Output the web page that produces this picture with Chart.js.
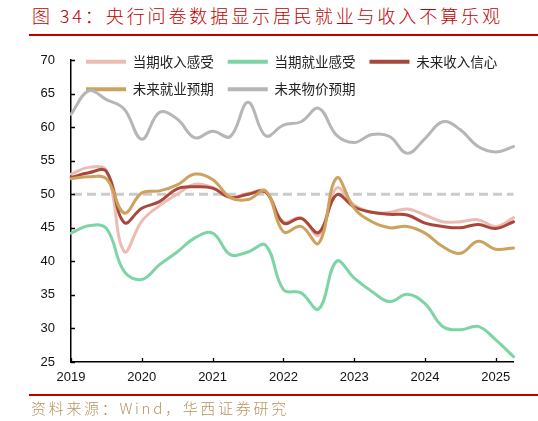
<!DOCTYPE html>
<html>
<head>
<meta charset="utf-8">
<script src="https://cdn.jsdelivr.net/npm/chart.js@4.4.1/dist/chart.umd.min.js"></script>
<style>
  html, body { margin: 0; padding: 0; background: #fff; }
  #wrap { position: relative; width: 538px; height: 421px; overflow: hidden; }
  #chartBox { position: absolute; left: 0; top: 0; width: 538px; height: 421px; }
  .title { position: absolute; left: 32px; top: 4px; font-family: "Noto Sans CJK SC", sans-serif; font-weight: 300;
           font-size: 18px; line-height: 22px; color: #C00000; letter-spacing: 2.9px; white-space: nowrap; }
  .rule { position: absolute; left: 29px; right: 0; height: 1.5px; background: #C00000; }
  .source { position: absolute; left: 31px; top: 398px; font-family: "Noto Sans CJK SC", sans-serif; font-weight: 300;
            font-size: 15px; line-height: 19px; color: #B8935B; letter-spacing: 2.7px; white-space: nowrap; }
</style>
</head>
<body>
<div id="wrap">
  <div class="title">图 34：央行问卷数据显示居民就业与收入不算乐观</div>
  <div class="rule" style="top:34px"></div>
  <div id="chartBox"><canvas id="c"></canvas></div>
  <div class="rule" style="top:394px"></div>
  <div class="source">资料来源：Wind，华西证券研究</div>
</div>
<script>
// ---- data ----
const quarters = [
  "2019Q1","2019Q2","2019Q3","2019Q4","2020Q1","2020Q2","2020Q3","2020Q4",
  "2021Q1","2021Q2","2021Q3","2021Q4","2022Q1","2022Q2","2022Q3","2022Q4",
  "2023Q1","2023Q2","2023Q3","2023Q4","2024Q1","2024Q2","2024Q3","2024Q4",
  "2025Q1","2025Q2"
];
const incomeNow = [53.0,54.0,53.5,41.5,46.0,48.3,50.0,51.5,51.0,49.6,50.1,50.4,45.9,46.5,43.9,50.9,48.4,47.3,47.3,47.8,46.9,45.9,45.9,46.2,45.2,46.5];
const jobNow    = [44.2,45.3,44.9,38.5,37.3,39.5,41.4,43.5,44.2,41.0,41.4,42.4,35.8,35.3,32.9,40.0,37.5,35.5,34.0,35.1,33.7,30.3,29.8,30.3,28.3,25.8];
const incomeFut = [52.5,53.2,53.4,45.8,47.9,48.9,50.8,51.1,50.9,49.5,50.0,50.3,45.7,46.4,44.3,49.9,48.1,47.3,47.0,46.9,45.7,45.2,45.0,45.5,44.9,45.9];
const jobFut    = [52.3,52.6,52.3,47.2,50.2,50.5,51.4,53.0,52.2,49.5,49.2,50.5,44.4,45.2,42.7,52.4,47.9,45.9,45.0,45.2,44.2,42.2,41.2,43.0,41.8,42.0];
const priceFut  = [61.9,65.4,64.1,62.7,58.2,62.2,61.2,58.4,59.4,58.6,63.7,58.7,60.3,60.8,62.8,58.8,57.7,58.9,58.6,56.1,58.3,60.8,59.6,57.1,56.3,57.1];
const seriesNames = ["当期收入感受","当期就业感受","未来收入信心","未来就业预期","未来物价预期"];
const yTicks = { min: 25, max: 70, step: 5 };
const neutralLine = 50;

// ---- styles ----
const colors = ["#EBBDB2","#7DD4A4","#A8473B","#CDA25F","#B6B6B6"];
const drawOrder = [3, 2, 1, 0, 4];   // lower = drawn on top
const seriesData = [incomeNow, jobNow, incomeFut, jobFut, priceFut];

const datasets = seriesNames.map((name, i) => ({
  label: name,
  data: seriesData[i],
  borderColor: colors[i],
  backgroundColor: colors[i],
  borderWidth: 3,
  pointRadius: 0,
  tension: 0.4,
  fill: false,
  order: drawOrder[i],
  borderCapStyle: 'round',
  borderJoinStyle: 'round'
}));

const neutralPlugin = {
  id: 'neutral',
  beforeDatasetsDraw(chart) {
    const {ctx, chartArea, scales} = chart;
    const y = scales.y.getPixelForValue(neutralLine);
    ctx.save();
    ctx.strokeStyle = '#CBCBCB';
    ctx.lineWidth = 3;
    ctx.setLineDash([9, 5]);
    ctx.beginPath();
    ctx.moveTo(chartArea.left + 2, y);
    ctx.lineTo(chartArea.right, y);
    ctx.stroke();
    ctx.restore();
  }
};

const innerTicks = {
  id: 'innerTicks',
  afterDraw(chart) {
    const {ctx, scales} = chart;
    const xs = scales.x, ys = scales.y;
    ctx.save();
    ctx.strokeStyle = '#000';
    ctx.lineWidth = 1.3;
    ctx.beginPath();
    xs.ticks.forEach((t, i) => {
      if (quarters[t.value] && quarters[t.value].endsWith('Q1')) {
        const px = Math.round(xs.getPixelForTick(i)) + 0.5;
        ctx.moveTo(px, xs.top);
        ctx.lineTo(px, xs.top - 4);
      }
    });
    ys.ticks.forEach((t, i) => {
      const py = Math.round(ys.getPixelForTick(i)) + 0.5;
      ctx.moveTo(ys.right, py);
      ctx.lineTo(ys.right + 4, py);
    });
    ctx.stroke();
    ctx.restore();
  }
};

// Legend sits inside the plot area: take no layout space, then move it.
const legendMove = {
  id: 'legendMove',
  beforeLayout(chart) {
    const lg = chart.legend;
    if (lg && !lg._noSpace) {
      const orig = lg.fit.bind(lg);
      lg.fit = function () { orig(); this._realH = this.height; this.height = 0; };
      lg._noSpace = true;
    }
  },
  afterLayout(chart) {
    const lg = chart.legend;
    if (!lg) return;
    const h = lg._realH || 60;
    lg.top = 41;
    lg.bottom = 41 + h;
    lg.height = h;
    lg.left = 72;
    lg.right = 538;
    lg.width = 538 - 72;
  }
};

Chart.defaults.font.family = '"Liberation Sans", Arial, sans-serif';
Chart.defaults.color = '#000';

new Chart(document.getElementById('c'), {
  type: 'line',
  data: { labels: quarters, datasets },
  options: {
    responsive: true,
    maintainAspectRatio: false,
    animation: false,
    events: [],
    layout: { padding: { left: 0, right: 24.5, top: 60, bottom: 29 } },
    plugins: {
      tooltip: { enabled: false },
      legend: {
        position: 'top',
        align: 'start',
        labels: {
          boxWidth: 40,
          boxHeight: 4,
          padding: 14,
          color: '#222',
          font: { family: '"Noto Sans CJK SC", sans-serif', size: 13.5 },
          sort: (a, b) => a.datasetIndex - b.datasetIndex,
          generateLabels(chart) {
            const items = Chart.defaults.plugins.legend.labels.generateLabels(chart);
            items.forEach(it => { it.lineWidth = 0; it.fillStyle = it.strokeStyle; });
            return items;
          }
        }
      }
    },
    scales: {
      x: {
        type: 'category',
        offset: false,
        grid: { display: true, drawOnChartArea: false, drawTicks: false },
        border: { display: true, color: '#000', width: 1.5 },
        ticks: {
          autoSkip: false,
          maxRotation: 0,
          padding: 8,
          font: { size: 13 },
          color: '#111',
          callback(v) { const q = quarters[v]; return q.endsWith('Q1') ? q.slice(0, 4) : ''; }
        },
        afterFit(s) { s.height = 30; }
      },
      y: {
        min: yTicks.min,
        max: yTicks.max,
        grid: { display: true, drawOnChartArea: false, drawTicks: false },
        border: { display: true, color: '#000', width: 1.5 },
        ticks: { stepSize: yTicks.step, padding: 16, font: { size: 13 }, color: '#111' },
        afterFit(s) { s.width = 71; }
      }
    }
  },
  plugins: [neutralPlugin, innerTicks, legendMove]
});
</script>
</body>
</html>
